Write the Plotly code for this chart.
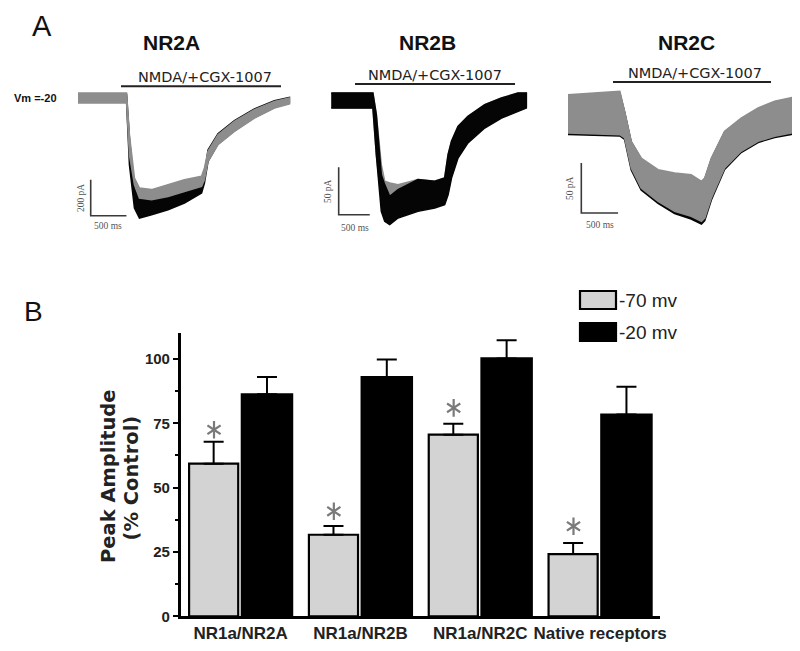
import plotly.graph_objects as go

W, H = 800, 651
def px(x): return x / W
def py(y): return 1 - y / H

# ---------------- Panel B data ----------------
categories = ["NR1a/NR2A", "NR1a/NR2B", "NR1a/NR2C", "Native receptors"]
amp_m70 = [59.3, 31.7, 70.6, 24.2]
err_m70 = [8.5, 3.4, 4.2, 4.3]
amp_m20 = [86.3, 93.0, 100.2, 78.4]
err_m20 = [6.7, 6.8, 7.1, 10.8]
star_y = [72.5, 40.8, 81.0, 35.0]
y_ticks = [0, 25, 50, 75, 100]

# ---------------- Panel A data (time ms, current pA envelopes) ----------------
nr2a_t = [0, 680, 720, 790, 860, 1030, 1260, 1490, 1730, 1770, 1820, 1960, 2190, 2470, 2750, 2960]
nr2a_grey_hi = [28, 28, -204, -445, -500, -509, -482, -454, -435, -389, -296, -204, -130, -65, -19, 0]
nr2a_grey_lo = [-28, -28, -315, -482, -556, -565, -547, -519, -491, -454, -352, -259, -185, -111, -56, -33]
nr2a_black_hi = [19, 19, -222, -500, -565, -565, -547, -519, -473, -426, -289, -198, -126, -61, -15, 4]
nr2a_black_lo = [-19, -19, -371, -611, -667, -649, -621, -584, -528, -473, -352, -255, -182, -108, -52, -28]

nr2b_t = [0, 670, 725, 805, 860, 940, 1075, 1395, 1665, 1825, 1880, 1935, 2040, 2200, 2470, 2740, 3005, 3140]
nr2b_grey_hi = [7.9, 7.9, -14.9, -67.7, -85.3, -87.0, -88.8, -83.5, -85.3, -81.8, -57.2, -43.1, -27.3, -16.7, -4.4, 2.6, 7.9, 7.9]
nr2b_grey_lo = [-7.9, -7.9, -57.2, -106.4, -109.9, -109.9, -113.4, -113.4, -111.6, -108.1, -97.6, -80.0, -58.9, -43.1, -27.3, -16.7, -9.7, -6.2]
nr2b_black_hi = [7.9, 7.9, -14.9, -78.3, -88.8, -101.1, -94.1, -83.5, -85.3, -81.8, -57.2, -43.1, -27.3, -16.7, -4.4, 2.6, 7.9, 7.9]
nr2b_black_lo = [-7.9, -7.9, -57.2, -116.9, -127.5, -131.0, -124.0, -117.0, -113.4, -109.9, -99.4, -81.8, -60.7, -44.8, -29.0, -18.5, -11.4, -7.9]

nr2c_t = [0, 705, 770, 860, 995, 1225, 1450, 1675, 1815, 1860, 1950, 2130, 2355, 2585, 2810, 3035, 3130]
nr2c_grey_hi = [19.3, 22.7, 2.7, -27.3, -44.0, -55.7, -59.0, -60.7, -67.3, -64.0, -44.0, -17.3, -4.0, 6.0, 12.7, 16.0, 17.7]
nr2c_grey_lo = [-19.0, -20.7, -24.0, -54.0, -74.0, -87.3, -97.3, -102.3, -107.3, -104.0, -84.0, -54.0, -37.3, -27.3, -22.3, -19.0, -15.7]
nr2c_black_hi = [18, 21, 2, -28, -45, -57, -60, -62, -68, -65, -45, -18, -5, 5, 12, 15, 17]
nr2c_black_lo = [-20.5, -22, -25.5, -56, -76, -89.5, -99.5, -105, -110, -106.5, -86, -55.5, -38.5, -28.5, -23.5, -20.5, -17]

panel_titles = ["NR2A", "NR2B", "NR2C"]
scale_pA = [200, 50, 50]
scale_ms = 500

fig = go.Figure()

GREY = "#8d8d8d"
BLACK = "#050505"

panels = [
    dict(t=nr2a_t, gh=nr2a_grey_hi, gl=nr2a_grey_lo, bh=nr2a_black_hi, bl=nr2a_black_lo,
         grey_on_top=True, ax="2", xd=(60, 290), xr=(-140, 3080), yd=(60, 230), yr=(-778, 167),
         sb=(178, -654)),
    dict(t=nr2b_t, gh=nr2b_grey_hi, gl=nr2b_grey_lo, bh=nr2b_black_hi, bl=nr2b_black_lo,
         grey_on_top=False, ax="3", xd=(310, 535), xr=(-214, 3408), yd=(60, 230), yr=(-145.1, 34.3),
         sb=(119, -120.5)),
    dict(t=nr2c_t, gh=nr2c_grey_hi, gl=nr2c_grey_lo, bh=nr2c_black_hi, bl=nr2c_black_lo,
         grey_on_top=True, ax="4", xd=(550, 800), xr=(-136, 3264), yd=(50, 230), yr=(-124, 56),
         sb=(181, -99)),
]

def band(t, hi, lo, color, ax):
    return go.Scatter(x=list(t) + list(t)[::-1], y=list(hi) + list(lo)[::-1],
                      fill="toself", fillcolor=color, mode="lines",
                      line=dict(color=color, width=1.5), hoverinfo="skip",
                      showlegend=False, xaxis="x" + ax, yaxis="y" + ax)

layout_axes = {}
for i, p in enumerate(panels):
    ax = p["ax"]
    grey = band(p["t"], p["gh"], p["gl"], GREY, ax)
    black = band(p["t"], p["bh"], p["bl"], BLACK, ax)
    if p["grey_on_top"]:
        fig.add_trace(black); fig.add_trace(grey)
    else:
        fig.add_trace(grey); fig.add_trace(black)
    x0, y0 = p["sb"]
    fig.add_trace(go.Scatter(x=[x0, x0, x0 + scale_ms], y=[y0 + scale_pA[i], y0, y0],
                             mode="lines", line=dict(color="#3a3a3a", width=1.6),
                             hoverinfo="skip", showlegend=False, xaxis="x" + ax, yaxis="y" + ax))
    layout_axes["xaxis" + ax] = dict(domain=[px(p["xd"][0]), px(p["xd"][1])], range=list(p["xr"]),
                                     visible=False, anchor="y" + ax)
    layout_axes["yaxis" + ax] = dict(domain=[py(p["yd"][1]), py(p["yd"][0])], range=list(p["yr"]),
                                     visible=False, anchor="x" + ax)

# ---------------- Panel B bars ----------------
idx = list(range(len(categories)))
fig.add_trace(go.Bar(x=idx, y=amp_m70, offset=-0.43, width=0.41,
                     marker=dict(color="#d3d3d3", line=dict(color="black", width=2.2)),
                     error_y=dict(type="data", array=err_m70, arrayminus=[0] * 4, symmetric=False,
                                  color="black", thickness=2, width=10),
                     showlegend=False, xaxis="x", yaxis="y"))
fig.add_trace(go.Bar(x=idx, y=amp_m20, offset=0.01, width=0.42,
                     marker=dict(color="black", line=dict(color="black", width=2.2)),
                     error_y=dict(type="data", array=err_m20, arrayminus=[0] * 4, symmetric=False,
                                  color="black", thickness=2, width=10),
                     showlegend=False, xaxis="x", yaxis="y"))
star_x = [i - 0.222 for i in idx]
for sym in ["y-up-open", "y-down-open"]:
    fig.add_trace(go.Scatter(x=star_x, y=star_y, mode="markers",
                             marker=dict(symbol=sym, size=11, color="#7a7a7a",
                                         line=dict(color="#7a7a7a", width=2.2)),
                             showlegend=False, hoverinfo="skip", xaxis="x", yaxis="y"))

annotations = []
def ann(text, x, y, size, family="Liberation Sans, Arial", color="#111", weight="normal", angle=0, xanchor="center"):
    annotations.append(dict(text=text, x=px(x), y=py(y), xref="paper", yref="paper", showarrow=False,
                            xanchor=xanchor, yanchor="middle", textangle=angle,
                            font=dict(size=size, family=family, color=color, weight=weight)))

ann("A", 34, 18, 29)
ann("B", 25, 303, 28)
ann("Vm =-20", 27, 90, 11, weight="bold")
for title, cx in zip(panel_titles, [163, 419, 678]):
    ann(title, cx, 34, 21, weight="bold")

shapes = []
for (cx, ty, bx0, bx1, by) in [(197, 69, 113, 273, 78.3), (427, 67, 347, 507, 76), (687, 65, 605, 763, 74)]:
    ann("NMDA/+CGX-1007", cx, ty, 14.5, family="DejaVu Sans", color="#222")
    shapes.append(dict(type="line", xref="paper", yref="paper", x0=px(bx0), x1=px(bx1), y0=py(by), y1=py(by),
                       line=dict(color="#222", width=2)))

# scale bar labels
for lbl, x, y in [("200 pA", 73, 190), ("50 pA", 320, 183), ("50 pA", 562, 180)]:
    ann(lbl, x, y, 9.5, family="Liberation Serif, Times New Roman", color="#555", angle=-90)
for x, y in [(100, 218), (347, 220), (592, 217)]:
    ann("500 ms", x, y, 9.5, family="Liberation Serif, Times New Roman", color="#555")

# y-axis title of panel B
ann("Peak Amplitude", 100, 468, 19.5, family="DejaVu Sans", weight="bold", color="#222", angle=-90)
ann("(% Control)", 123.5, 470, 19.5, family="DejaVu Sans", weight="bold", color="#222", angle=-90)

# legend
for (y0, y1, col, lab) in [(283, 301, "#d3d3d3", "-70 mv"), (315, 333, "black", "-20 mv")]:
    shapes.append(dict(type="rect", xref="paper", yref="paper", x0=px(572), x1=px(608), y0=py(y1), y1=py(y0),
                       fillcolor=col, line=dict(color="black", width=2.2)))
    ann(lab, 609, (y0 + y1) / 2, 19, family="Liberation Sans Narrow, Arial Narrow, Liberation Sans", color="#222",
        xanchor="left")

fig.update_layout(
    width=W, height=H, margin=dict(l=0, r=0, t=0, b=0),
    paper_bgcolor="white", plot_bgcolor="white", showlegend=False,
    annotations=annotations, shapes=shapes,
    xaxis=dict(domain=[px(172.7), px(652)], range=[-0.5, 3.5], showline=True, linecolor="black",
               linewidth=2.5, ticks="", tickvals=idx, ticktext=categories, showgrid=False, zeroline=False,
               tickfont=dict(size=17, family="Liberation Sans, Arial", color="#222", weight="bold"),
               anchor="y", automargin=False),
    yaxis=dict(domain=[py(608.3), py(325)], range=[0, 110.1], showline=True, linecolor="black",
               linewidth=2.5, ticks="outside", ticklen=5, tickwidth=2, tickcolor="black",
               tickvals=y_ticks, showgrid=False, zeroline=False,
               minor=dict(tickvals=[12.5, 37.5, 62.5, 87.5], ticks="outside", ticklen=3, tickwidth=2,
                          tickcolor="black"),
               tickfont=dict(size=15, family="Liberation Sans, Arial", color="#222", weight="bold"),
               anchor="x", automargin=False),
    **layout_axes,
)

fig.write_html("out.html")
